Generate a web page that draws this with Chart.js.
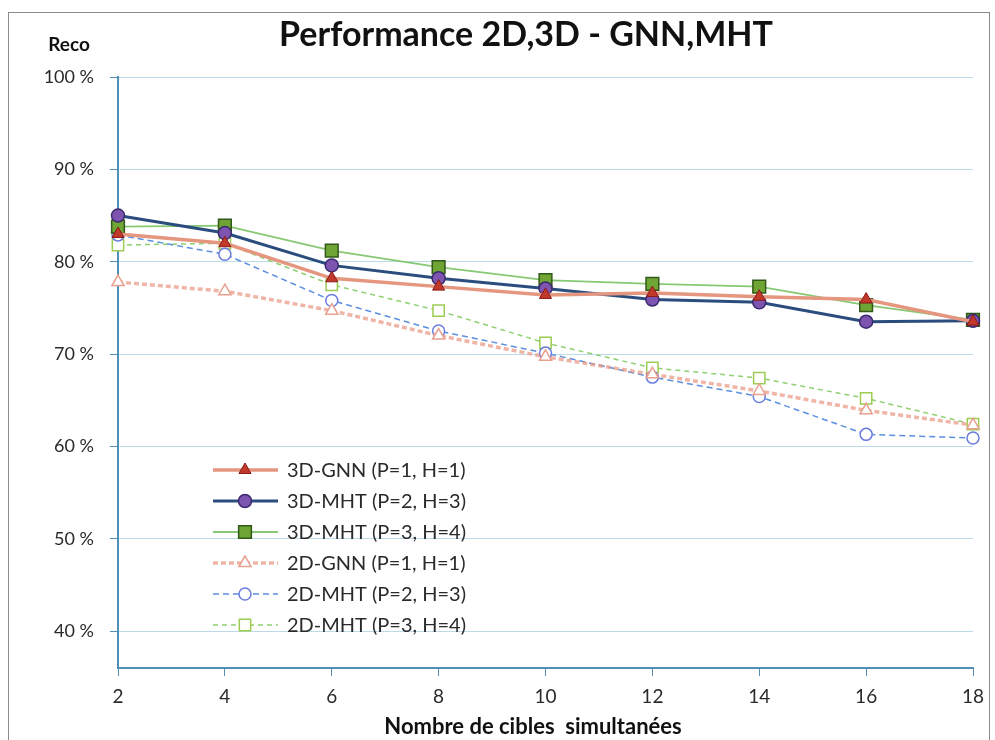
<!DOCTYPE html>
<html>
<head>
<meta charset="utf-8">
<script src="https://cdn.jsdelivr.net/npm/chart.js@4.4.0/dist/chart.umd.min.js"></script>
<style>
  html, body { margin: 0; padding: 0; background: #fff; }
  #wrap { width: 995px; height: 740px; }
</style>
</head>
<body>
<div id="wrap"><canvas id="perfChart" width="995" height="740"></canvas></div>
<script>
// x categories
const cibles = ['2', '4', '6', '8', '10', '12', '14', '16', '18'];
// % reco per series
const gnn3d   = [83.0, 82.0, 78.2, 77.3, 76.4, 76.6, 76.2, 75.9, 73.5];
const mht3dP2 = [85.0, 83.1, 79.6, 78.2, 77.1, 75.9, 75.6, 73.5, 73.6];
const mht3dP3 = [83.8, 83.9, 81.2, 79.4, 78.0, 77.6, 77.3, 75.3, 73.7];
const gnn2d   = [77.8, 76.8, 74.7, 72.0, 69.7, 67.8, 66.0, 63.9, 62.3];
const mht2dP2 = [82.9, 80.8, 75.8, 72.5, 70.1, 67.5, 65.4, 61.3, 60.9];
const mht2dP3 = [81.8, 82.0, 77.5, 74.7, 71.2, 68.5, 67.4, 65.2, 62.4];
const yTicks  = [40, 50, 60, 70, 80, 90, 100];

const FONT = "Lato, 'Open Sans', sans-serif";
const AXIS = '#4f8fb8';

// legend drawn inside plot + title, axis titles and frame
const decor = {
  id: 'decor',
  afterDraw(chart) {
    const c = chart.ctx;
    c.save();
    // frame
    c.strokeStyle = '#8a8a8a';
    c.lineWidth = 1;
    c.strokeRect(8.5, 12.5, 981, 740);

    c.fillStyle = '#111';
    c.textAlign = 'center';
    c.textBaseline = 'middle';
    c.font = 'bold 34px ' + FONT;
    c.fillText('Performance 2D,3D - GNN,MHT', 526, 35);
    c.font = 'bold 19px ' + FONT;
    c.fillText('Reco', 69, 45);
    c.font = 'bold 22px ' + FONT;
    c.fillText('Nombre de cibles  simultanées', 533, 727);

    // legend
    chart.data.datasets.forEach((ds, i) => {
      const y = 470 + i * 31;
      c.beginPath();
      c.setLineDash(ds.borderDash || []);
      c.strokeStyle = ds.borderColor;
      c.lineWidth = ds.borderWidth;
      c.moveTo(213, y);
      c.lineTo(278, y);
      c.stroke();
      c.setLineDash([]);
      c.fillStyle = ds.pointBackgroundColor;
      c.strokeStyle = ds.pointBorderColor;
      c.lineWidth = ds.pointBorderWidth;
      Chart.helpers.drawPoint(c, {
        pointStyle: ds.pointStyle, radius: ds.pointRadius,
        rotation: 0, borderWidth: ds.pointBorderWidth
      }, 245, y);
      c.fillStyle = '#2a2a2a';
      c.textAlign = 'left';
      c.font = '20px ' + FONT;
      c.fillText(ds.label, 287, y + 1);
    });
    c.restore();
  }
};

new Chart(document.getElementById('perfChart'), {
  type: 'line',
  data: {
    labels: cibles,
    datasets: [
      {
        label: '3D-GNN (P=1, H=1)', data: gnn3d,
        borderColor: '#e5967f', borderWidth: 3.5,
        pointStyle: 'triangle', pointRadius: 7,
        pointBackgroundColor: '#c0392b', pointBorderColor: '#8b1a1a', pointBorderWidth: 1
      },
      {
        label: '3D-MHT (P=2, H=3)', data: mht3dP2,
        borderColor: '#2b4d7e', borderWidth: 3,
        pointStyle: 'circle', pointRadius: 6.5,
        pointBackgroundColor: '#7d55b0', pointBorderColor: '#3b2a6e', pointBorderWidth: 1.5
      },
      {
        label: '3D-MHT (P=3, H=4)', data: mht3dP3,
        borderColor: '#86c873', borderWidth: 1.8,
        pointStyle: 'rect', pointRadius: 9,
        pointBackgroundColor: '#6fa535', pointBorderColor: '#33591a', pointBorderWidth: 1.5
      },
      {
        label: '2D-GNN (P=1, H=1)', data: gnn2d,
        borderColor: 'rgba(232,150,130,0.7)', borderWidth: 3.5, borderDash: [5, 3],
        pointStyle: 'triangle', pointRadius: 7,
        pointBackgroundColor: '#ffffff', pointBorderColor: '#e8a090', pointBorderWidth: 1.5
      },
      {
        label: '2D-MHT (P=2, H=3)', data: mht2dP2,
        borderColor: '#5b8fe0', borderWidth: 1.5, borderDash: [6, 4],
        pointStyle: 'circle', pointRadius: 6,
        pointBackgroundColor: '#ffffff', pointBorderColor: '#6a7ce0', pointBorderWidth: 1.5
      },
      {
        label: '2D-MHT (P=3, H=4)', data: mht2dP3,
        borderColor: '#8fd070', borderWidth: 1.5, borderDash: [5, 4],
        pointStyle: 'rect', pointRadius: 8,
        pointBackgroundColor: '#ffffff', pointBorderColor: '#9ccc50', pointBorderWidth: 1.5
      }
    ]
  },
  options: {
    responsive: false,
    animation: false,
    layout: { padding: { top: 77, right: 22, left: 0, bottom: 0 } },
    plugins: {
      legend: { display: false },
      title: { display: false },
      tooltip: { enabled: false }
    },
    scales: {
      x: {
        offset: false,
        grid: { drawOnChartArea: false, color: AXIS, tickLength: 8 },
        border: { color: AXIS, width: 2 },
        ticks: { padding: 9, color: '#2a2a2a', maxRotation: 0, font: { family: FONT, size: 19 } },
        afterFit(s) { s.height = 72; }
      },
      y: {
        min: 36, max: 100,
        afterBuildTicks(s) { s.ticks = yTicks.map(v => ({ value: v })); },
        grid: { color: '#bcdbe9', tickColor: AXIS, tickLength: 8 },
        border: { color: AXIS, width: 2 },
        ticks: { padding: 16, color: '#2a2a2a', font: { family: FONT, size: 18 }, callback: v => v + ' %' },
        afterFit(s) { s.width = 118; }
      }
    }
  },
  plugins: [decor]
});
</script>
</body>
</html>
